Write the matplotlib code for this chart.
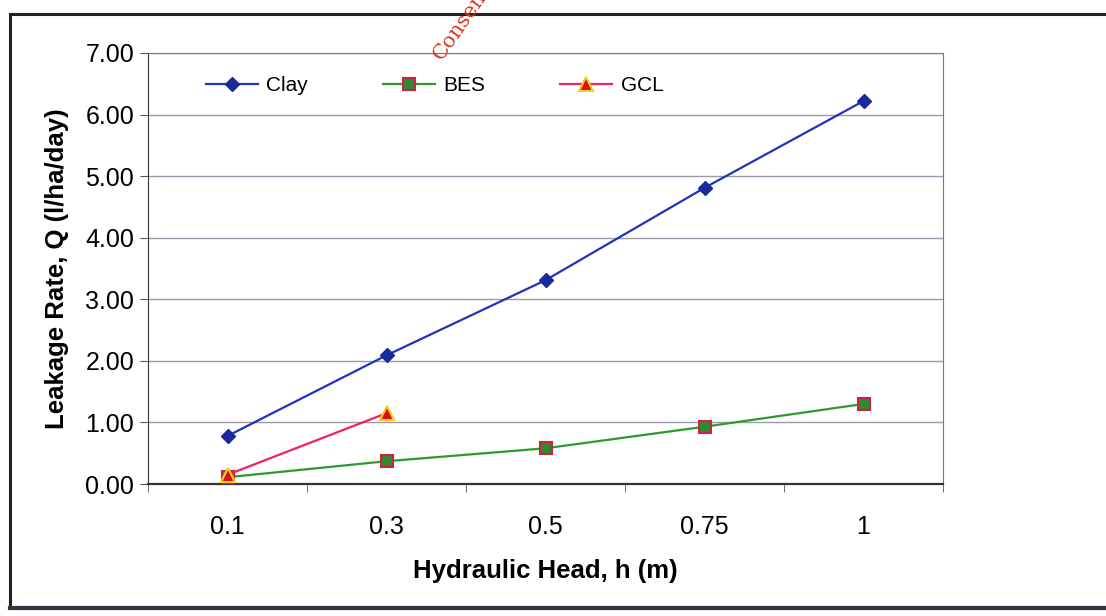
import matplotlib
matplotlib.use("Agg")
import matplotlib.pyplot as plt
from matplotlib.lines import Line2D

heads = ["0.1", "0.3", "0.5", "0.75", "1"]
clay = [0.78, 2.09, 3.31, 4.81, 6.22]
bes = [0.11, 0.37, 0.58, 0.93, 1.30]
gcl = [0.15, 1.15]
y_ticks = [0, 1, 2, 3, 4, 5, 6, 7]

plt.rcParams['font.family'] = ['Liberation Sans', 'DejaVu Sans']

W, H = 1106, 616
fig = plt.figure(figsize=(W / 100, H / 100), dpi=100)
fig.patch.set_facecolor('white')

ax = fig.add_axes([148 / W, 1 - 484 / H, (943 - 148) / W, (484 - 53) / H])
x = list(range(len(heads)))

ax.plot(x, clay, color='#2233bb', lw=1.6, marker='D', ms=7,
        mfc='#1a2a9a', mec='#1a2a9a', label='Clay', zorder=3)
ax.plot(x, bes, color='#2e9a2e', lw=1.6, marker='s', ms=8,
        mfc='#2e8a2e', mec='#cc2244', mew=1.5, label='BES', zorder=3)
ax.plot(x[:len(gcl)], gcl, color='#ee2266', lw=1.6, marker='^', ms=10,
        mfc='#dd1111', mec='#f0d020', mew=1.5, label='GCL', zorder=4)

ax.set_xlim(-0.5, len(heads) - 0.5)
ax.set_ylim(0, 7)
ax.set_yticks(y_ticks)
ax.set_yticklabels([f"{v:.2f}" for v in y_ticks], fontsize=18)
ax.set_xticks(x)
ax.set_xticklabels(heads, fontsize=18)
ax.tick_params(axis='x', length=0, pad=22)
ax.set_xticks([i - 0.5 for i in range(len(heads) + 1)], minor=True)
ax.tick_params(axis='x', which='minor', length=6, direction='out', color='#555555')
ax.tick_params(axis='y', length=6, direction='out', color='#555555', pad=4)
ax.grid(axis='y', color='#9a9aaa', lw=1.0)
ax.set_axisbelow(True)
for s in ['top', 'right']:
    ax.spines[s].set_color('#777777')
    ax.spines[s].set_linewidth(0.8)
ax.spines['left'].set_color('#333333')
ax.spines['bottom'].set_color('#333344')
ax.spines['bottom'].set_linewidth(1.6)

ax.set_xlabel("Hydraulic Head, h (m)", fontsize=18.5, fontweight='bold', labelpad=15)
ax.set_ylabel("Leakage Rate, Q (l/ha/day)", fontsize=18.5, fontweight='bold', labelpad=12)

ax.legend(loc='upper left', ncol=3, frameon=False, fontsize=15,
          bbox_to_anchor=(0.049, 0.99), columnspacing=3.6, handlelength=2.5,
          handletextpad=0.4)

# scanned-page border
fig.add_artist(Line2D([10 / W, 10 / W], [1 - 14 / H, 1 - 608 / H], color='#222222', lw=2.2))
fig.add_artist(Line2D([10 / W, 1.0], [1 - 14 / H, 1 - 14 / H], color='#222222', lw=2.2))
fig.add_artist(Line2D([10 / W, 1.0], [1 - 608 / H, 1 - 608 / H], color='#333344', lw=3))

# watermark
fig.text(462 / W, 1 - 22 / H, "Consent", color='#dd3322', fontsize=15,
         family='DejaVu Serif', rotation=55, ha='center', va='center')

fig.savefig("out.png", dpi=100)
